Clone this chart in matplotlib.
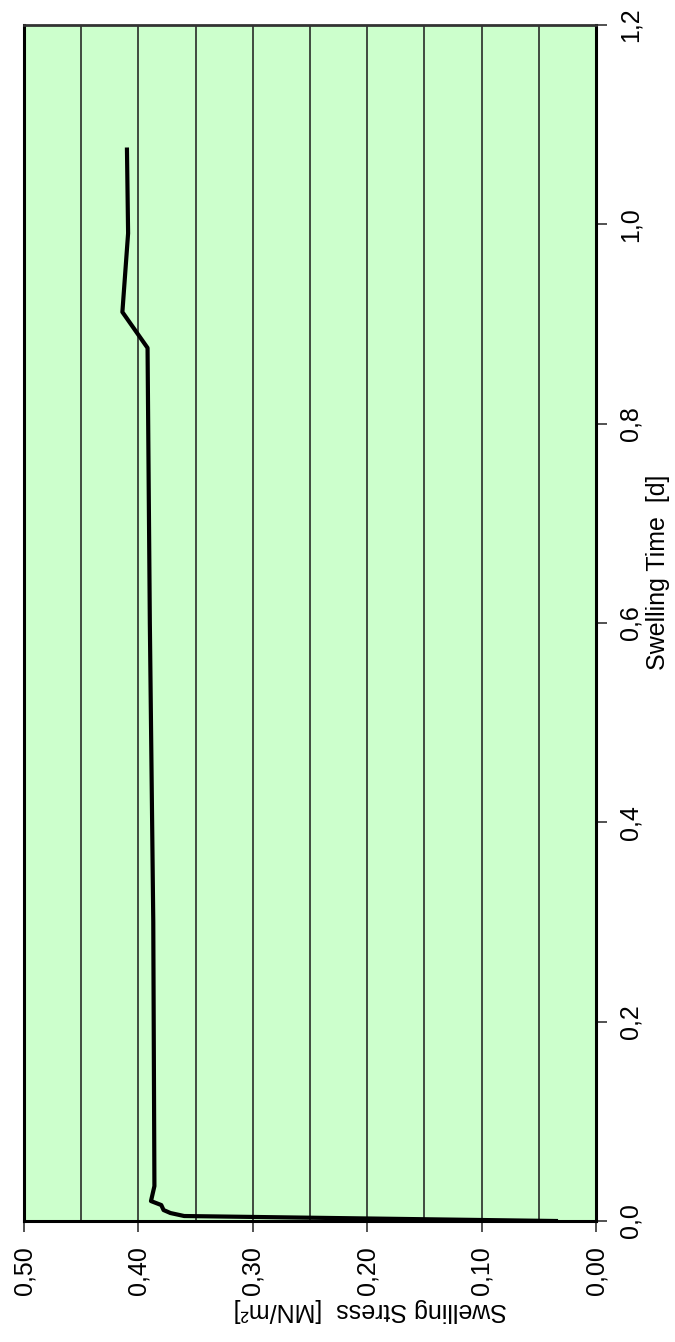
import matplotlib
matplotlib.use("Agg")
import matplotlib.pyplot as plt
import numpy as np

# swelling time [d] and swelling stress [MN/m2]
time_d = [0.0, 0.005, 0.008, 0.011, 0.016, 0.020, 0.035, 0.30, 0.60, 0.876, 0.912, 0.991, 1.075]
stress = [0.035, 0.360, 0.372, 0.378, 0.380, 0.389, 0.386, 0.387, 0.390, 0.392, 0.414, 0.409, 0.410]

stress_ticks = [0.0, 0.1, 0.2, 0.3, 0.4, 0.5]
time_ticks = [0.0, 0.2, 0.4, 0.6, 0.8, 1.0, 1.2]
grid_lines = [0.05, 0.10, 0.15, 0.20, 0.25, 0.30, 0.35, 0.40, 0.45]


def comma(v, nd):
	"""format a number with a decimal comma"""
	return f"{v:.{nd}f}".replace(".", ",")


def main():
	plt.rcParams['font.family'] = ['Liberation Sans', 'DejaVu Sans']
	fig = plt.figure(figsize=(6.75, 13.42), dpi=100)
	ax = fig.add_axes([24 / 675, 121 / 1342, 572 / 675, 1196 / 1342])
	ax.set_facecolor('#CCFFCC')

	for g in grid_lines:
		ax.axvline(g, color='#1a1a1a', lw=1.1, zorder=1)

	ax.plot(stress, time_d, color='black', lw=3.0, zorder=3)

	ax.set_xlim(0.5, 0.0)
	ax.set_ylim(0.0, 1.2)
	ax.set_xticks(stress_ticks)
	ax.set_xticklabels([comma(v, 2) for v in stress_ticks], rotation=90, fontsize=18)
	ax.set_yticks(time_ticks)
	ax.set_yticklabels([comma(v, 1) for v in time_ticks], rotation=90, fontsize=18, va='center')
	ax.yaxis.tick_right()
	ax.tick_params(axis='both', direction='out', length=8, width=1.2, color='#333333')
	ax.tick_params(axis='x', pad=10)
	ax.tick_params(axis='y', pad=8)

	ax.set_xlabel('Swelling Stress  [MN/m²]', rotation=180, fontsize=18, va='center')
	ax.xaxis.set_label_coords(0.605, -0.0744)
	ax.yaxis.set_label_position('right')
	ax.set_ylabel('Swelling Time  [d]', rotation=90, fontsize=18, va='center', ha='center')
	ax.yaxis.set_label_coords(1.108, 0.5426)

	for side in ['left', 'right', 'bottom']:
		ax.spines[side].set_linewidth(2.2)
		ax.spines[side].set_color('black')
	ax.spines['top'].set_linewidth(2.0)
	ax.spines['top'].set_color('#333333')

	fig.savefig('out.png', dpi=100, facecolor='white')


if __name__ == "__main__":
	main()
